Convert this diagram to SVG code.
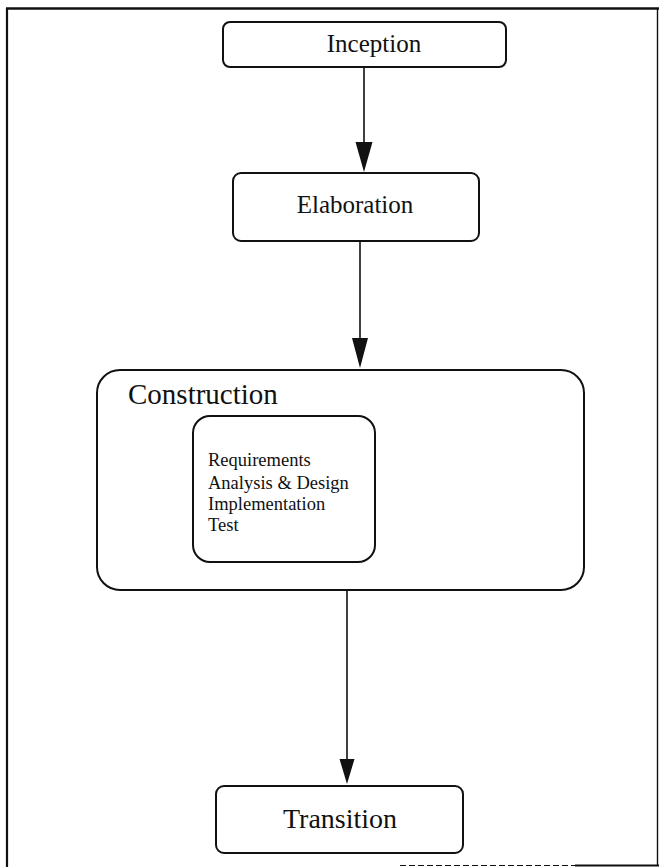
<svg xmlns="http://www.w3.org/2000/svg" width="659" height="867" viewBox="0 0 659 867">
  <defs>
    <style>
      .box { fill: #fff; stroke: #111; stroke-width: 2; }
      .edge { stroke: #111; stroke-width: 1.6; fill: none; }
      .head { fill: #111; stroke: none; }
      .lbl { font-family: "Liberation Serif", "Times New Roman", serif; fill: #111; }
      .frame { stroke: #111; fill: none; }
    </style>
  </defs>
  <rect width="659" height="867" fill="#fff"/>

  <!-- page frame -->
  <g id="frame">
    <line class="frame" x1="6" y1="8.5" x2="659" y2="8.5" stroke-width="2.6"/>
    <line class="frame" x1="7" y1="8" x2="7" y2="867" stroke-width="2.2"/>
    <line class="frame" x1="657.5" y1="8" x2="657.5" y2="866" stroke-width="1.4"/>
    <line class="frame" x1="400" y1="865.5" x2="575" y2="865.5" stroke="#999" stroke-width="1.2" stroke-dasharray="6 3"/>
    <line class="frame" x1="575" y1="865.5" x2="659" y2="865.5" stroke-width="2"/>
  </g>

  <!-- connectors -->
  <g id="connectors">
    <line class="edge" x1="364" y1="67" x2="364" y2="145"/>
    <polygon class="head" points="355.5,142 372.5,142 364,172"/>
    <line class="edge" x1="360" y1="241" x2="360" y2="340"/>
    <polygon class="head" points="352,338 368,338 360,368"/>
    <line class="edge" x1="347" y1="590" x2="347" y2="762"/>
    <polygon class="head" points="339.5,759 354.5,759 347,784"/>
  </g>

  <g id="inception">
    <rect class="box" x="223" y="22" width="283" height="45" rx="7"/>
    <text class="lbl" x="374" y="52" font-size="25" text-anchor="middle">Inception</text>
  </g>

  <g id="elaboration">
    <rect class="box" x="233" y="173" width="246" height="68" rx="8"/>
    <text class="lbl" x="355" y="213" font-size="25" text-anchor="middle">Elaboration</text>
  </g>

  <g id="construction">
    <rect class="box" x="97" y="370" width="487" height="220" rx="23"/>
    <text class="lbl" x="128" y="404" font-size="29">Construction</text>
    <g id="disciplines">
      <rect class="box" x="193" y="416" width="182" height="146" rx="17"/>
      <text class="lbl" font-size="18.5">
        <tspan x="208" y="466">Requirements</tspan>
        <tspan x="208" y="489">Analysis &amp; Design</tspan>
        <tspan x="208" y="510">Implementation</tspan>
        <tspan x="208" y="531">Test</tspan>
      </text>
    </g>
  </g>

  <g id="transition">
    <rect class="box" x="216" y="786" width="247" height="67" rx="8"/>
    <text class="lbl" x="340" y="828" font-size="28" text-anchor="middle">Transition</text>
  </g>
</svg>
